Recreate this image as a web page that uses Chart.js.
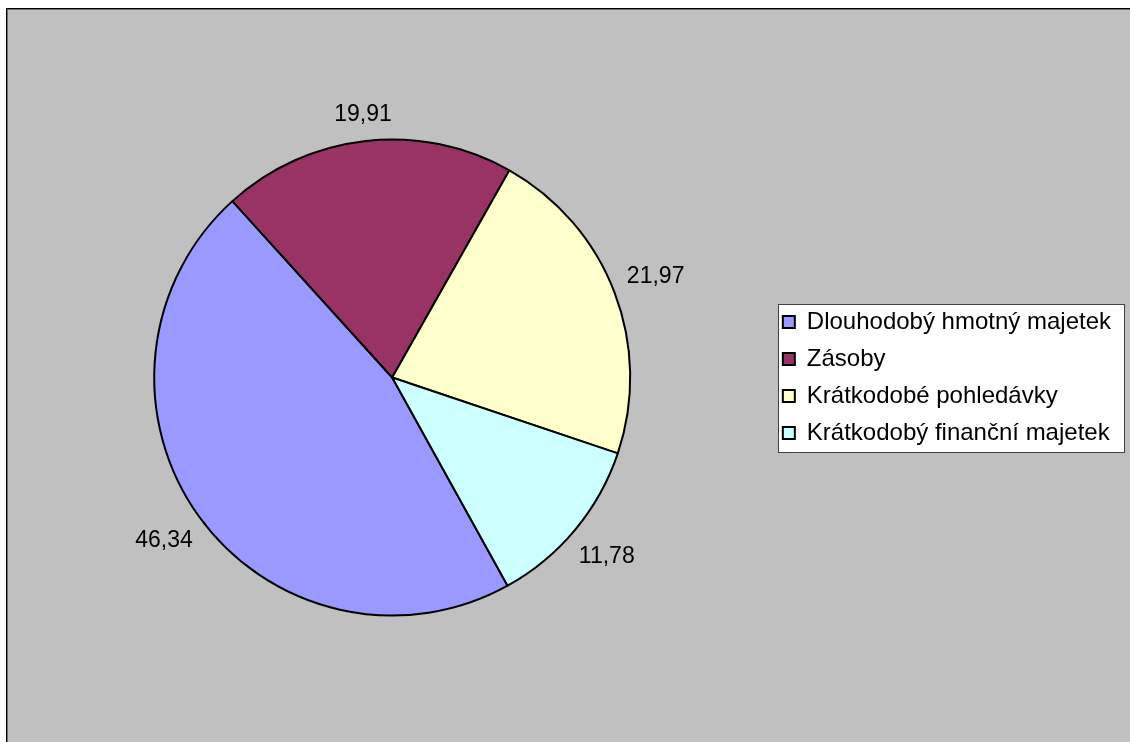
<!DOCTYPE html>
<html lang="cs">
<head>
<meta charset="utf-8">
<title>Struktura aktiv</title>
<script src="https://cdn.jsdelivr.net/npm/chart.js@4.4.1/dist/chart.umd.min.js"></script>
<style>
  html, body { margin: 0; padding: 0; background: #ffffff; }
  #wrap { width: 1130px; height: 742px; }
</style>
</head>
<body>
<div id="wrap"><canvas id="pie" width="1130" height="742"></canvas></div>
<script>
// Struktura aktiv (%)
const categories = [
  'Dlouhodobý hmotný majetek',
  'Zásoby',
  'Krátkodobé pohledávky',
  'Krátkodobý finanční majetek'
];
const shares = [46.34, 19.91, 21.97, 11.78];
const sliceColors = ['#9999FF', '#993366', '#FFFFCC', '#CCFFFF'];

const FONT = 'Arial, "Liberation Sans", sans-serif';
const LEGEND_SIZE = 24;
const LEGEND_PAD = 13;

// Gray plot background with the frame and the white legend panel
const backdrop = {
  id: 'backdrop',
  beforeDraw(chart) {
    const { ctx, width, height } = chart;
    ctx.save();
    ctx.fillStyle = '#ffffff';
    ctx.fillRect(0, 0, width, height);
    ctx.fillStyle = '#C0C0C0';
    ctx.fillRect(6, 8, width - 6, height - 8);
    ctx.fillStyle = '#000000';
    ctx.fillRect(6, 8, width - 6, 1);
    ctx.fillRect(6, 8, 1, height - 8);
    ctx.fillStyle = '#707070';
    ctx.fillRect(7, 9, width - 7, 1);
    ctx.fillRect(7, 9, 1, height - 9);

    const lg = chart.legend;
    if (lg && lg.legendItems) {
      const n = lg.legendItems.length;
      const line = LEGEND_SIZE + LEGEND_PAD;
      const y0 = (lg.top + LEGEND_PAD + lg.bottom - n * line) / 2;
      const x = Math.round(lg.left + LEGEND_PAD - 5) + 0.5;
      const y = Math.round(y0 - 6) + 0.5;
      const w = Math.round(lg.width - 5);
      const h = n * line;
      ctx.fillStyle = '#ffffff';
      ctx.fillRect(x, y, w, h);
      ctx.strokeStyle = '#404040';
      ctx.lineWidth = 1;
      ctx.strokeRect(x, y, w, h);
    }
    ctx.restore();
  }
};

// Value labels outside each slice, with a decimal comma
const sliceValues = {
  id: 'sliceValues',
  afterDatasetsDraw(chart) {
    const { ctx } = chart;
    const meta = chart.getDatasetMeta(0);
    const values = chart.data.datasets[0].data;
    ctx.save();
    ctx.font = '23px ' + FONT;
    ctx.fillStyle = '#000000';
    ctx.textAlign = 'center';
    ctx.textBaseline = 'middle';
    meta.data.forEach((arc, i) => {
      const p = arc.getProps(['x', 'y', 'startAngle', 'endAngle', 'outerRadius'], true);
      const mid = (p.startAngle + p.endAngle) / 2;
      const text = values[i].toFixed(2).replace('.', ',');
      const halfW = ctx.measureText(text).width / 2;
      const halfH = 9;
      const dist = p.outerRadius + 14 + halfW * Math.abs(Math.cos(mid)) + halfH * Math.abs(Math.sin(mid));
      ctx.fillText(text, p.x + Math.cos(mid) * dist, p.y + Math.sin(mid) * dist);
    });
    ctx.restore();
  }
};

Chart.defaults.color = '#000000';
Chart.defaults.font.family = FONT;

new Chart(document.getElementById('pie'), {
  type: 'pie',
  data: {
    labels: categories,
    datasets: [{
      data: shares,
      backgroundColor: sliceColors,
      borderColor: '#000000',
      borderWidth: 2
    }]
  },
  options: {
    responsive: false,
    animation: false,
    events: [],
    rotation: 151,
    radius: 238,
    layout: { padding: { left: 14.6, right: 9, top: 20, bottom: 7 } },
    plugins: {
      legend: {
        position: 'right',
        align: 'center',
        labels: {
          boxWidth: 12,
          boxHeight: 12,
          padding: LEGEND_PAD,
          color: '#000000',
          font: { size: LEGEND_SIZE, family: FONT }
        }
      },
      tooltip: { enabled: false }
    }
  },
  plugins: [backdrop, sliceValues]
});
</script>
</body>
</html>
